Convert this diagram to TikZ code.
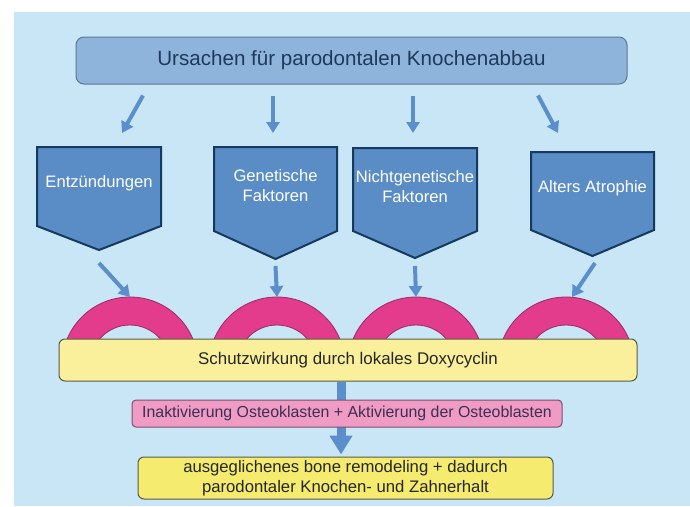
\documentclass[tikz,border=0pt]{standalone}
\usepackage{fontspec}
\setmainfont{Liberation Sans}
\usetikzlibrary{arrows.meta}

\definecolor{bgblue}{HTML}{C8E6F5}
\definecolor{headblue}{HTML}{8FB4DC}
\definecolor{headline}{HTML}{5A7894}
\definecolor{headtext}{HTML}{1E3A5A}
\definecolor{pentblue}{HTML}{5A8CC6}
\definecolor{pentline}{HTML}{163A5E}
\definecolor{arrowblue}{HTML}{5A8FCB}
\definecolor{ringpink}{HTML}{E43C8C}
\definecolor{ringline}{HTML}{9A2A66}
\definecolor{doxyyellow}{HTML}{FAF09B}
\definecolor{resultyellow}{HTML}{F5EB6E}
\definecolor{boxline}{HTML}{5A5A48}
\definecolor{osteopink}{HTML}{F09BC3}
\definecolor{osteoline}{HTML}{7A5070}
\definecolor{osteotext}{HTML}{3B2F55}

\begin{document}
\begin{tikzpicture}[x=1pt,y=-1pt,
  headbox/.style={draw=headline,fill=headblue,line width=1pt,rounded corners=8pt,
    text=headtext,font=\fontsize{20.6}{24}\selectfont},
  pentagon/.style={draw=pentline,fill=pentblue,line width=2pt},
  pentlabel/.style={text=white,align=center,inner sep=0pt,font=\fontsize{16.6}{20}\selectfont},
  ring/.style={draw=ringline,fill=ringpink,line width=0.8pt,even odd rule},
  doxybox/.style={draw=boxline,fill=doxyyellow,line width=1pt,rounded corners=6pt,
    text=black!85,font=\fontsize{16.9}{20}\selectfont},
  osteobox/.style={draw=osteoline,fill=osteopink,line width=1pt,rounded corners=4pt,
    text=osteotext,font=\fontsize{15.9}{18}\selectfont},
  resultbox/.style={draw=boxline,fill=resultyellow,line width=1pt,rounded corners=6pt,
    text=black!85,align=center,font=\fontsize{16.7}{20}\selectfont},
  thinarrow/.style={draw=arrowblue,line width=4pt,-{Triangle[width=13pt,length=11pt]}},
  bigarrow/.style={draw=arrowblue,line width=9pt,-{Triangle[width=22pt,length=19pt]}}]
\useasboundingbox (0,0) rectangle (690,506);
\fill[bgblue] (14,12) rectangle (690,506);

% causes
\node[headbox,minimum width=551pt,minimum height=47pt] (top) at (351.5,60.5)
  {Ursachen für parodontalen Knochenabbau};

\foreach \nm/\xl/\xr/\yt/\yb/\yp/\txt in {%
  ent/37/161/147/226/250/{Entzündungen},
  gen/214/337/147/231/259/{Genetische\\Faktoren},
  ngen/353/477/148/231/258/{Nichtgenetische\\Faktoren},
  alt/531/654/152/230/256/{Alters Atrophie}}{%
  \filldraw[pentagon] (\xl,\yt) -- (\xr,\yt) -- (\xr,\yb) -- ({(\xl+\xr)/2},\yp) -- (\xl,\yb) -- cycle;
  \node[pentlabel] (\nm) at ({(\xl+\xr)/2},{(\yt+\yb)/2-3}) {\txt};
  \coordinate (\nm-top) at ({(\xl+\xr)/2},\yt);
  \coordinate (\nm-tip) at ({(\xl+\xr)/2},\yp);
}

\draw[thinarrow] ([shift={(-208.5,11)}]top.south) -- ([shift={(23,-14)}]ent-top);
\draw[thinarrow] ([shift={(-78.5,11)}]top.south) -- ([shift={(-2.5,-14)}]gen-top);
\draw[thinarrow] ([shift={(61.5,11)}]top.south) -- ([shift={(-2,-15)}]ngen-top);
\draw[thinarrow] ([shift={(186.5,11)}]top.south) -- ([shift={(-34.5,-19)}]alt-top);

% osteoclast arches
\begin{scope}
  \clip (0,0) rectangle (690,345);
  \foreach \cx [count=\i] in {130,277,416,566}{%
    \filldraw[ring] (\cx,365) circle[radius=68pt] (\cx,365) circle[radius=40pt];
    \coordinate (arc\i) at (\cx,297);
  }
\end{scope}

\draw[thinarrow] ([shift={(0,13)}]ent-tip) -- (arc1);
\draw[thinarrow] ([shift={(0,7)}]gen-tip) -- (arc2);
\draw[thinarrow] ([shift={(0,8)}]ngen-tip) -- (arc3);
\draw[thinarrow] ([shift={(2.5,7)}]alt-tip) -- ([shift={(6,0)}]arc4);

% effect
\node[doxybox,minimum width=578pt,minimum height=42pt] (schutz) at (348,360)
  {Schutzwirkung durch lokales Doxycyclin};
\node[resultbox,minimum width=415pt,minimum height=42pt,inner sep=0pt] (erhalt) at (345.5,478)
  {ausgeglichenes bone remodeling + dadurch\\parodontaler Knochen- und Zahnerhalt};
\draw[bigarrow,shorten >=2pt] ([xshift=-7pt]schutz.south) -- ([xshift=-7pt]schutz.south |- erhalt.north);
\node[osteobox,minimum width=430pt,minimum height=27pt,inner sep=0pt] (osteo) at (347,413.5)
  {Inaktivierung Osteoklasten + Aktivierung der Osteoblasten};
\end{tikzpicture}
\end{document}
